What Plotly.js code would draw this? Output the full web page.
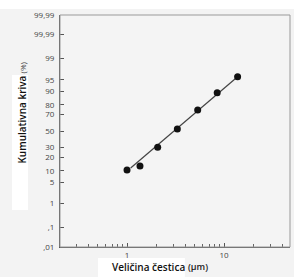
<!DOCTYPE html>
<html><head><meta charset="utf-8">
<script src="https://cdn.plot.ly/plotly-3.0.1.min.js"></script>
<style>html,body{margin:0;padding:0;background:#f3f3f3}#chart{width:294px;height:277px}</style>
</head><body><div id="chart"></div>
<script>
const particleSize = [1.0, 1.36, 2.07, 3.3, 5.35, 8.5, 13.8];
const cumulativePct = [10.6, 13.1, 30.2, 52.6, 75.0, 89.0, 95.9];
const fitSize = [1.09, 13.8];
const fitPct = [11.8, 95.9];
const yTickPct = [0.01, 0.1, 1, 5, 10, 20, 30, 50, 70, 80, 90, 95, 99, 99.9, 99.99];
const yTickText = [",01", ",1", "1", "5", "10", "20", "30", "50", "70", "80", "90", "95", "99", "99,99", "99,99"];
const xTickVals = [1, 10];
const xTickText = ["1", "10"];
const xMinorVals = [0.3, 0.4, 0.5, 0.6, 0.7, 0.8, 0.9, 2, 3, 4, 5, 6, 7, 8, 9, 20, 30, 40];

// inverse normal CDF (probability-paper scale)
function probit(p) {
  const a = [-3.969683028665376e+01, 2.209460984245205e+02, -2.759285104469687e+02, 1.383577518672690e+02, -3.066479806614716e+01, 2.506628277459239e+00];
  const b = [-5.447609879822406e+01, 1.615858368580409e+02, -1.556989798598866e+02, 6.680131188771972e+01, -1.328068155288572e+01];
  const c = [-7.784894002430293e-03, -3.223964580411365e-01, -2.400758277161838e+00, -2.549732539343734e+00, 4.374664141464968e+00, 2.938163982698783e+00];
  const d = [7.784695709041462e-03, 3.224671290700398e-01, 2.445134137142996e+00, 3.754408661907416e+00];
  const pl = 0.02425, ph = 1 - pl;
  let q, r;
  if (p < pl) { q = Math.sqrt(-2 * Math.log(p));
    return (((((c[0]*q+c[1])*q+c[2])*q+c[3])*q+c[4])*q+c[5]) / ((((d[0]*q+d[1])*q+d[2])*q+d[3])*q+1); }
  if (p <= ph) { q = p - 0.5; r = q*q;
    return (((((a[0]*r+a[1])*r+a[2])*r+a[3])*r+a[4])*r+a[5])*q / (((((b[0]*r+b[1])*r+b[2])*r+b[3])*r+b[4])*r+1); }
  q = Math.sqrt(-2 * Math.log(1 - p));
  return -(((((c[0]*q+c[1])*q+c[2])*q+c[3])*q+c[4])*q+c[5]) / ((((d[0]*q+d[1])*q+d[2])*q+d[3])*q+1);
}
const P = v => probit(v / 100);

const traces = [
  { x: fitSize, y: fitPct.map(P), mode: 'lines', line: { color: '#444', width: 1.2 }, hoverinfo: 'skip' },
  { x: particleSize, y: cumulativePct.map(P), mode: 'markers', marker: { color: '#111', size: 7 } }
];

const layout = {
  width: 294, height: 277,
  margin: { l: 60, r: 4, t: 15, b: 30 },
  paper_bgcolor: '#f3f3f3', plot_bgcolor: '#f4f4f4',
  showlegend: false,
  font: { family: 'Open Sans, sans-serif', size: 8, color: '#444' },
  xaxis: {
    type: 'log', range: [-0.691, 1.680],
    tickmode: 'array', tickvals: xTickVals, ticktext: xTickText,
    ticks: 'inside', ticklen: 4, tickcolor: '#555', tickwidth: 1,
    minor: { tickmode: 'array', tickvals: xMinorVals, ticks: 'inside', ticklen: 3, tickcolor: '#666', showgrid: false },
    showgrid: false, zeroline: false, showline: true, linecolor: '#555', linewidth: 1,
    tickfont: { size: 8, color: '#444' }, fixedrange: true
  },
  yaxis: {
    range: [P(0.01), P(99.99)],
    tickmode: 'array', tickvals: yTickPct.map(P), ticktext: yTickText,
    ticks: 'inside', ticklen: 4, tickcolor: '#555', tickwidth: 1,
    showgrid: false, zeroline: false, showline: true, linecolor: '#555', linewidth: 1,
    tickfont: { size: 8, color: '#444' }, ticklabelstandoff: 3, fixedrange: true
  },
  shapes: [
    { type: 'rect', xref: 'paper', yref: 'paper', x0: 0, x1: 1, y0: 0, y1: 1, line: { color: '#999', width: 1 } },
    { type: 'rect', xref: 'paper', yref: 'paper', x0: -0.209, x1: -0.139, y0: 0.159, y1: 0.741, fillcolor: '#ffffff', line: { width: 0 } },
    { type: 'rect', xref: 'paper', yref: 'paper', x0: 0.165, x1: 0.543, y0: -0.13, y1: -0.047, fillcolor: '#ffffff', line: { width: 0 } },
    { type: 'rect', xref: 'paper', yref: 'paper', x0: -0.27, x1: 1.02, y0: 1.026, y1: 1.07, fillcolor: '#ffffff', line: { width: 0 } }
  ],
  annotations: [
    { xref: 'paper', yref: 'paper', x: -0.163, y: 0.547, text: 'Kumulativna kriva', textangle: -90, showarrow: false,
      xanchor: 'center', yanchor: 'middle', font: { size: 10, color: '#111', family: 'Open Sans, sans-serif', weight: 600 } },
    { xref: 'paper', yref: 'paper', x: -0.163, y: 0.772, text: '(%)', textangle: -90, showarrow: false,
      xanchor: 'center', yanchor: 'middle', font: { size: 8, color: '#444' } },
    { xref: 'paper', yref: 'paper', x: 0.383, y: -0.086, text: 'Veličina čestica', showarrow: false,
      xanchor: 'center', yanchor: 'middle', font: { size: 10, color: '#111', family: 'Open Sans, sans-serif', weight: 600 } },
    { xref: 'paper', yref: 'paper', x: 0.6, y: -0.086, text: '(µm)', showarrow: false,
      xanchor: 'center', yanchor: 'middle', font: { size: 9, color: '#222', family: 'Open Sans, sans-serif', weight: 600 } }
  ]
};

Plotly.newPlot('chart', traces, layout, { displayModeBar: false, staticPlot: true });
</script>
</body></html>
